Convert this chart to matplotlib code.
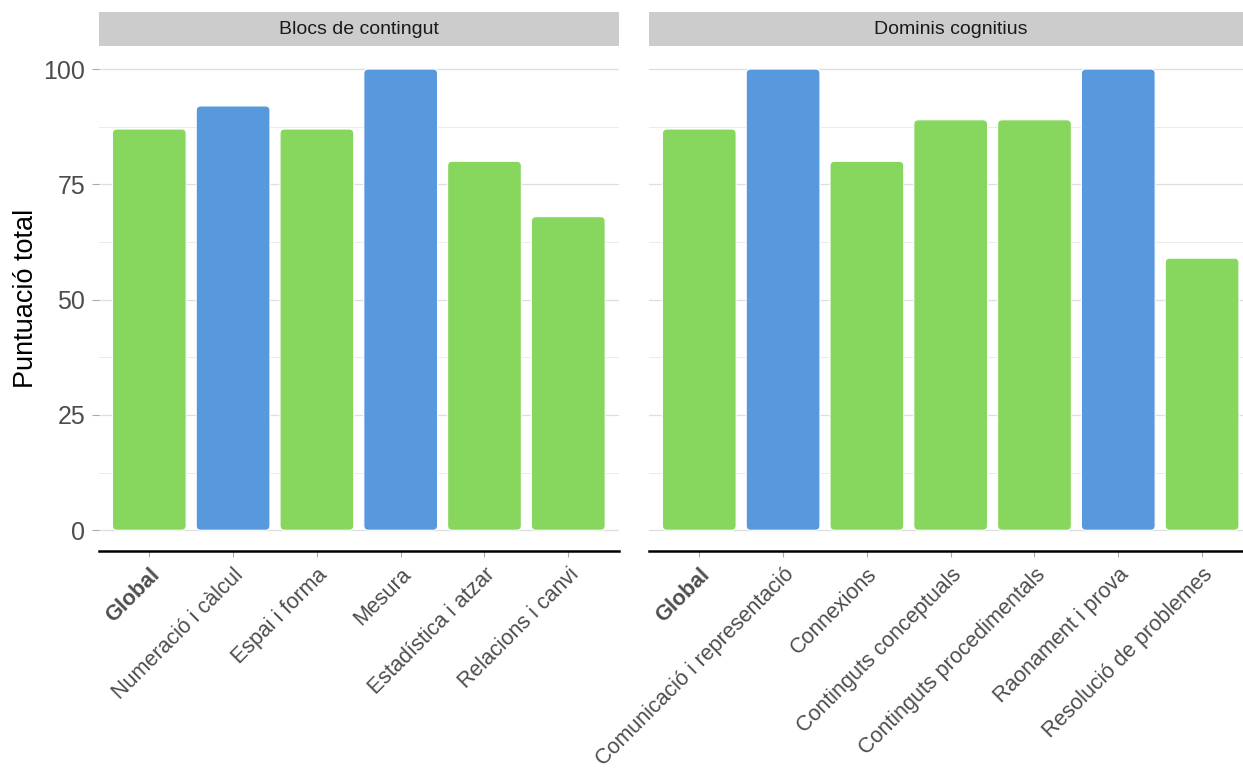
import matplotlib
matplotlib.use("Agg")
import matplotlib.pyplot as plt
from matplotlib.patches import FancyBboxPatch

plt.rcParams['font.family'] = ['Liberation Sans', 'DejaVu Sans']

# Data
blocs_labels = ["Global", "Numeració i càlcul", "Espai i forma", "Mesura",
                "Estadística i atzar", "Relacions i canvi"]
blocs_values = [87, 92, 87, 100, 80, 68]
blocs_high = [False, True, False, True, False, False]

dominis_labels = ["Global", "Comunicació i representació", "Connexions",
                  "Continguts conceptuals", "Continguts procedimentals",
                  "Raonament i prova", "Resolució de problemes"]
dominis_values = [87, 100, 80, 89, 89, 100, 59]
dominis_high = [False, True, False, False, False, True, False]

panel_titles = ["Blocs de contingut", "Dominis cognitius"]
yticks = [0, 25, 50, 75, 100]

GREEN = "#87D65E"
BLUE = "#5799DC"
TICKCOL = "#4D4D4D"

W, H = 1243, 768
fig = plt.figure(figsize=(W / 100, H / 100), dpi=100)

slot = 83.8
panels = [
    (99, blocs_labels, blocs_values, blocs_high, panel_titles[0]),
    (649, dominis_labels, dominis_values, dominis_high, panel_titles[1]),
]
top_px, bot_px = 46, 551
strip_top = 12

for i, (x0, labels, values, high, title) in enumerate(panels):
    n = len(labels)
    x1 = x0 + slot * (n - 1 + 1.2)
    ax = fig.add_axes([x0 / W, 1 - bot_px / H, (x1 - x0) / W, (bot_px - top_px) / H])
    ax.set_xlim(-0.6, n - 1 + 0.6)
    ax.set_ylim(-4.5, 105)
    # grid
    for g in range(0, 101, 25):
        ax.axhline(g, color="#DEDEDE", lw=0.9, zorder=0)
    for g in [12.5, 37.5, 62.5, 87.5]:
        ax.axhline(g, color="#EBEBEB", lw=0.7, zorder=0)
    colors = [BLUE if h else GREEN for h in high]
    bars = ax.bar(range(n), values, width=0.88, color=colors)
    # rounded versions
    px_x = slot
    px_y = (bot_px - top_px) / 109.5
    r_x = 4.5 / px_x
    aspect = px_x / px_y
    for b, c in zip(bars, colors):
        bx, by, bw, bh = b.get_x(), b.get_y(), b.get_width(), b.get_height()
        b.remove()
        p = FancyBboxPatch((bx, by), bw, bh,
                           boxstyle=f"round,pad=0,rounding_size={r_x}",
                           mutation_aspect=aspect, facecolor=c,
                           edgecolor="white", lw=0.8, zorder=2)
        ax.add_patch(p)
    for s in ["top", "right", "left"]:
        ax.spines[s].set_visible(False)
    ax.spines["bottom"].set_color("black")
    ax.spines["bottom"].set_linewidth(1.8)
    ax.set_xticks(range(n))
    ax.set_xticklabels(labels, rotation=45, ha="right", va="top",
                       rotation_mode="anchor", fontsize=15.5, color=TICKCOL)
    ax.get_xticklabels()[0].set_fontweight("bold")
    ax.tick_params(axis="x", length=4, color="#AAAAAA", width=0.8, pad=5.5)
    if i == 0:
        ax.set_yticks(yticks)
        ax.set_yticklabels([str(t) for t in yticks], fontsize=18, color=TICKCOL)
        ax.tick_params(axis="y", length=5, color="#AAAAAA", width=0.8, pad=5)
        ax.set_ylabel("Puntuació total", fontsize=19.5, color="black", labelpad=3)
    else:
        ax.set_yticks([])
    # strip
    sax = fig.add_axes([x0 / W, 1 - top_px / H, (x1 - x0) / W, (top_px - strip_top) / H])
    sax.set_facecolor("#CCCCCC")
    sax.set_xticks([]); sax.set_yticks([])
    for s in sax.spines.values():
        s.set_visible(False)
    sax.text(0.5, 0.5, title, ha="center", va="center", fontsize=14, color="#1A1A1A",
             transform=sax.transAxes)

fig.savefig("out.png", dpi=100)
